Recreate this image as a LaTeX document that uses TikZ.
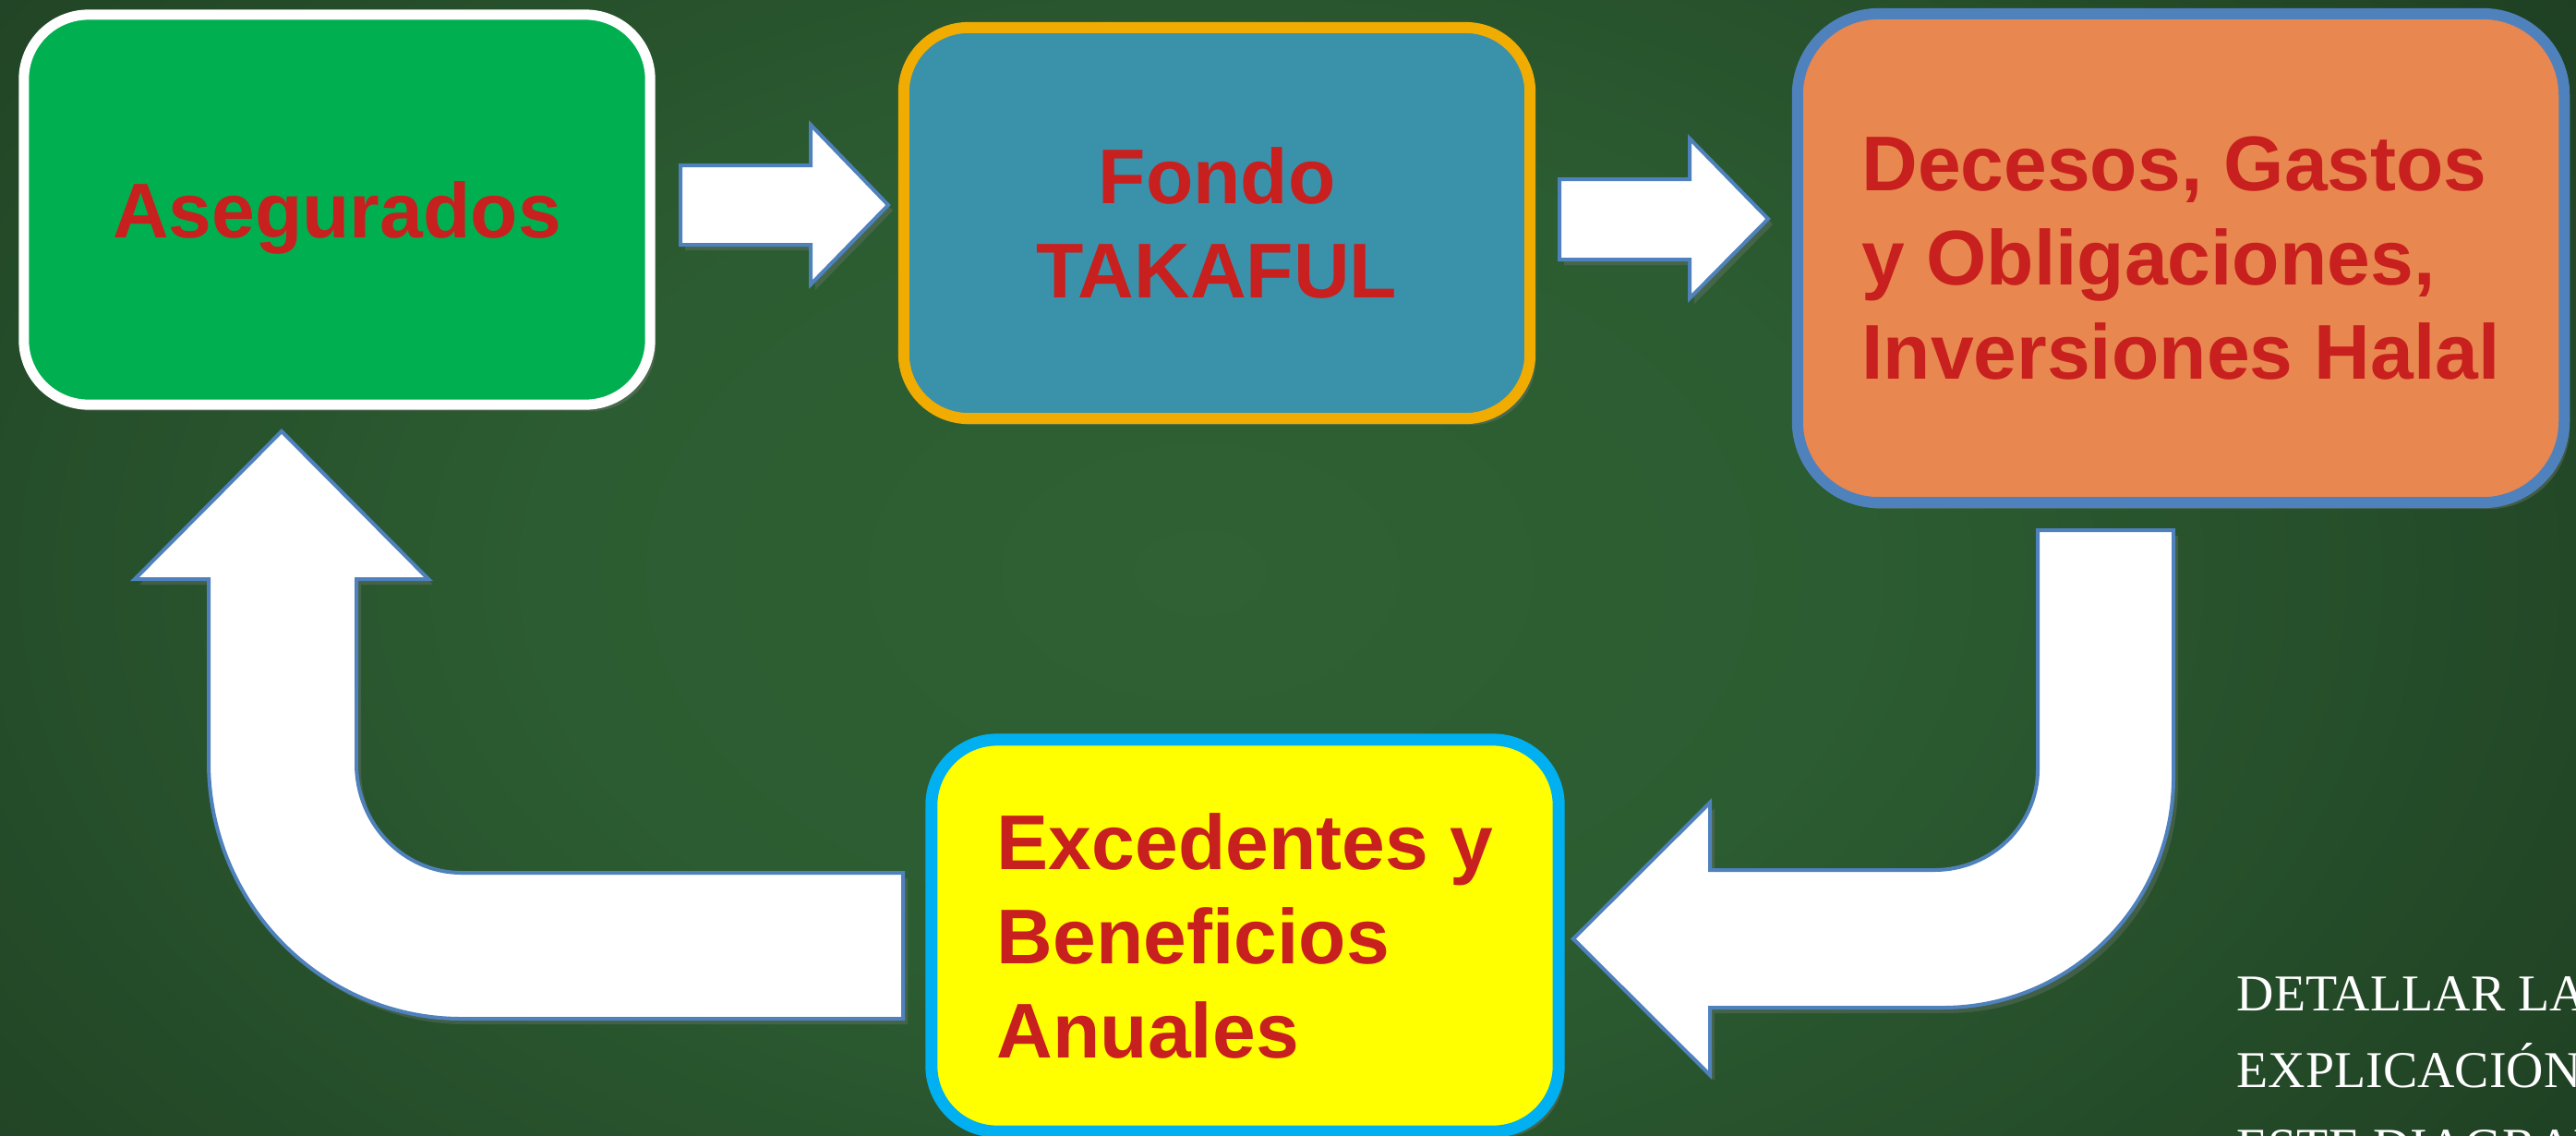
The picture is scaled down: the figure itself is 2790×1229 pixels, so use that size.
\documentclass[tikz,border=0pt]{standalone}
\usepackage{fontspec}
\setmainfont{Liberation Serif}
\newfontfamily\boxfont{Liberation Sans}
\usetikzlibrary{shadows}
\definecolor{bgA}{HTML}{2F6134}
\definecolor{bgB}{HTML}{2C5C31}
\definecolor{bgC}{HTML}{1F4023}
\definecolor{bgD}{HTML}{152A19}
\definecolor{bgE}{HTML}{0F1F12}
\definecolor{cGreen}{HTML}{00B050}
\definecolor{cTeal}{HTML}{3A91AA}
\definecolor{cOrange}{HTML}{E8874F}
\definecolor{cGold}{HTML}{F0AC00}
\definecolor{cBlue}{HTML}{4F81BD}
\definecolor{cSky}{HTML}{00B0F0}
\definecolor{cYellow}{HTML}{FFFF00}
\definecolor{txtred}{HTML}{C8201E}
\pgfdeclareradialshading{bgshade}{\pgfpoint{0bp}{0bp}}{color(0bp)=(bgA); color(12bp)=(bgB); color(30bp)=(bgC); color(42bp)=(bgD); color(50bp)=(bgE)}
\tikzset{
  box/.style={rectangle, draw, inner sep=0pt, text=txtred,
    font=\boxfont\bfseries\fontsize{23.9}{29}\selectfont,
    drop shadow={opacity=0.35, shadow xshift=0.06cm, shadow yshift=-0.07cm}},
  blockarrow/.style={fill=white, draw=cBlue, line width=0.04cm, line join=miter,
    drop shadow={opacity=0.3, shadow xshift=0.05cm, shadow yshift=-0.06cm}},
  note/.style={text=white, inner sep=0pt, align=left,
    font=\fontsize{15.9}{23.6}\selectfont}
}
\begin{document}
\begin{tikzpicture}[x=0.01cm,y=-0.01cm]
\useasboundingbox (0,0) rectangle (2790,1229);
\clip (0,0) rectangle (2790,1229);
\shade[shading=bgshade] (-200,-349) rectangle (2800,1589);

% boxes
\node[box, fill=cGreen, draw=white, line width=0.11cm, minimum width=6.78cm, minimum height=4.22cm, rounded corners=0.70cm, text depth=0pt] (aseg) at (365,227) {Asegurados};
\node[box, fill=cTeal, draw=cGold, line width=0.12cm, minimum width=6.78cm, minimum height=4.23cm, rounded corners=0.70cm, align=center] (fondo) at (1318,241.5) {Fondo\\TAKAFUL};
\node[box, fill=cOrange, draw=cBlue, line width=0.12cm, minimum width=8.30cm, minimum height=5.29cm, rounded corners=0.88cm, align=left] (deces) at (2362,279.5) {Decesos, Gastos\\y Obligaciones,\\Inversiones Halal};
\node[box, fill=cYellow, draw=cSky, line width=0.13cm, minimum width=6.79cm, minimum height=4.24cm, rounded corners=0.71cm, align=left] (exced) at (1348.5,1013) {Excedentes y\\Beneficios\\Anuales};

% straight block arrows
\draw[blockarrow] (737,179) -- (878,179) -- (878,135) -- (962,222) -- (878,308) -- (878,265) -- (737,265) -- cycle;
\draw[blockarrow] (1689,194) -- (1830,194) -- (1830,150) -- (1915,237) -- (1830,323) -- (1830,281) -- (1689,281) -- cycle;

% bent arrow: Decesos -> Excedentes
\draw[blockarrow] (2207,574) -- (2207,833)
  .. controls (2207,893) and (2157,942) .. (2095,942)
  -- (1852,942) -- (1852,869) -- (1704,1016.5) -- (1852,1164) -- (1852,1091)
  -- (2104,1091)
  .. controls (2242,1091) and (2354,980) .. (2354,842)
  -- (2354,574) -- cycle;

% bent arrow: Excedentes -> Asegurados
\draw[blockarrow] (978,945) -- (500,945)
  .. controls (437,945) and (386,892) .. (386,827)
  -- (386,627) -- (464,627) -- (305,467) -- (146,627) -- (226,627)
  -- (226,825)
  .. controls (226,979) and (349,1103) .. (500,1103)
  -- (978,1103) -- cycle;

% note text
\node[note, anchor=north west] (nota) at (2422,1057) {DETALLAR LA\\EXPLICACIÓN\\ESTE DIAGRAMA};
\end{tikzpicture}
\end{document}
